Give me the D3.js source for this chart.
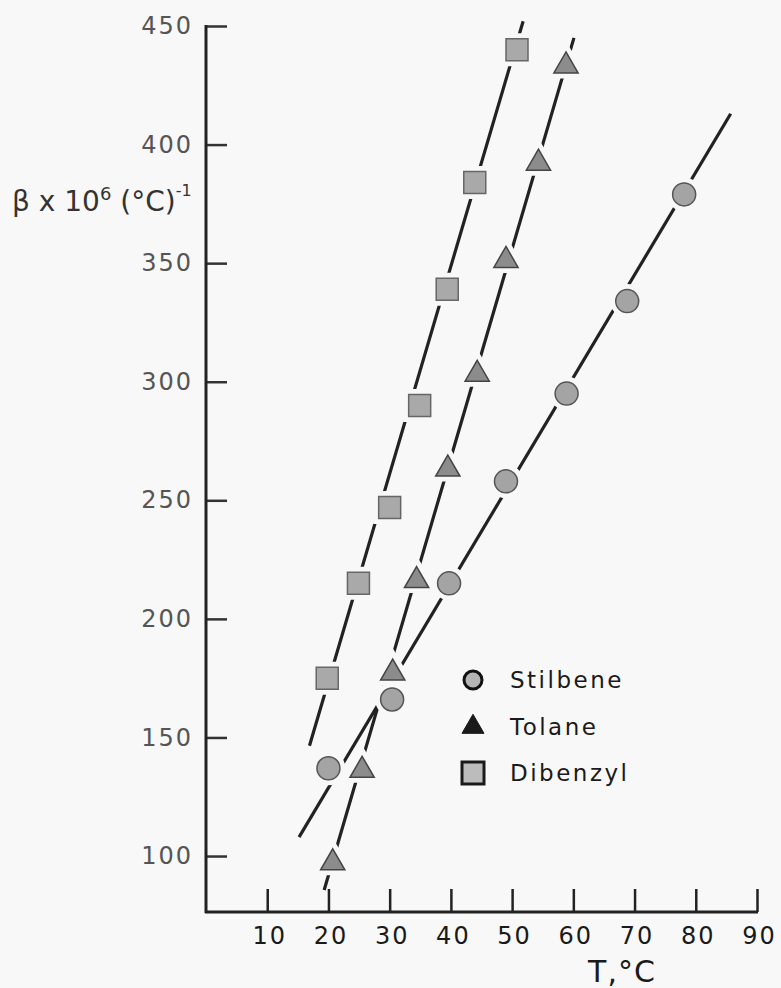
<!DOCTYPE html>
<html>
<head>
<meta charset="utf-8">
<script src="https://cdn.jsdelivr.net/npm/d3@7/dist/d3.min.js"></script>
<style>
  html, body { margin: 0; padding: 0; background: #f8f8f8; }
  svg { display: block; }
  text { font-family: "DejaVu Sans", sans-serif; }
</style>
</head>
<body>
<script>
// ---- data ----
const xTicks = [10, 20, 30, 40, 50, 60, 70, 80, 90];
const yTicks = [100, 150, 200, 250, 300, 350, 400, 450];

const stilbeneT = [20.0, 30.4, 39.7, 49.0, 58.9, 68.8, 78.1];
const stilbeneB = [137, 166, 215, 258, 295, 334, 379];

const tolaneT = [20.7, 25.5, 30.5, 34.4, 39.5, 44.3, 49.0, 54.3, 58.8];
const tolaneB = [98, 137, 178, 217, 264, 304, 352, 393, 434];

const dibenzylT = [19.8, 24.9, 30.0, 34.9, 39.4, 43.9, 50.8];
const dibenzylB = [175, 215, 247, 290, 339, 384, 440];

// fitted straight lines drawn through each series (end points)
const stilbeneLineT = [15.2, 85.7];
const stilbeneLineB = [108, 413];
const tolaneLineT = [19.3, 60.1];
const tolaneLineB = [85.7, 445];
const dibenzylLineT = [16.9, 51.8];
const dibenzylLineB = [146.5, 452];

const legendNames = ["Stilbene", "Tolane", "Dibenzyl"];

// ---- drawing ----
const W = 781, H = 988;
const bg = "#f8f8f8";
const ink = "#222";

const svg = d3.select("body").append("svg").attr("width", W).attr("height", H);
svg.append("rect").attr("width", W).attr("height", H).attr("fill", bg);

const x = d3.scaleLinear().domain([0, 90]).range([206, 757]);
const y = d3.scaleLinear().domain([76.4, 450]).range([912, 26]);

// axes
const yAxis = d3.axisLeft(y).tickValues(yTicks).tickSize(-21).tickPadding(15).tickFormat(d3.format("d"));
const gy = svg.append("g").attr("transform", `translate(${x(0)},0)`).call(yAxis);
gy.select(".domain").remove();
gy.selectAll(".tick line").attr("stroke", "#333").attr("stroke-width", 2.5);
gy.selectAll(".tick text").attr("font-size", 24).attr("fill", "#555").attr("letter-spacing", 2).attr("dx", 2);

const xAxis = d3.axisBottom(x).tickValues(xTicks).tickSize(-23).tickPadding(15).tickFormat(d3.format("d"));
const gx = svg.append("g").attr("transform", `translate(0,${y(76.4)})`).call(xAxis);
gx.select(".domain").remove();
gx.selectAll(".tick line").attr("stroke", ink).attr("stroke-width", 2.5);
gx.selectAll(".tick text").attr("font-size", 24).attr("fill", "#1a1a1a").attr("letter-spacing", 2).attr("dx", 2);

// axis lines
svg.append("line").attr("x1", x(0)).attr("x2", x(0)).attr("y1", y(450) - 1).attr("y2", y(76.4) + 1)
  .attr("stroke", ink).attr("stroke-width", 3);
svg.append("line").attr("x1", x(0) - 1).attr("x2", x(90) + 1).attr("y1", y(76.4)).attr("y2", y(76.4))
  .attr("stroke", ink).attr("stroke-width", 3);

// axis titles
const yt = svg.append("text").attr("x", 12).attr("y", 211).attr("font-size", 28).attr("fill", "#333");
yt.append("tspan").text("β x 10");
yt.append("tspan").attr("font-size", 18).attr("dy", -11).text("6");
yt.append("tspan").attr("dy", 11).text(" (°C)");
yt.append("tspan").attr("font-size", 16).attr("dy", -15).text("-1");

svg.append("text").attr("x", 622).attr("y", 982).attr("text-anchor", "middle")
  .attr("font-size", 30).attr("fill", "#1a1a1a").attr("letter-spacing", 1).text("T,°C");

// fitted lines
const lineGen = d3.line().x(d => x(d[0])).y(d => y(d[1]));
function drawLine(ts, bs) {
  svg.append("path").datum(ts.map((t, i) => [t, bs[i]])).attr("d", lineGen)
    .attr("fill", "none").attr("stroke", ink).attr("stroke-width", 3.2).attr("stroke-linecap", "butt");
}
drawLine(stilbeneLineT, stilbeneLineB);
drawLine(tolaneLineT, tolaneLineB);
drawLine(dibenzylLineT, dibenzylLineB);

// markers
const sym = {
  circle: d3.symbol().type(d3.symbolCircle),
  tri: d3.symbol().type(d3.symbolTriangle),
  sq: d3.symbol().type(d3.symbolSquare)
};
function marker(g, kind, cx, cy, size, fill, stroke, sw, halo) {
  let path, dy = 0;
  if (kind === "circle") path = sym.circle.size(Math.PI * size * size)();
  else if (kind === "sq") path = sym.sq.size(size * size * 4)();
  else { path = sym.tri.size(size * size * 2.1)(); dy = 2; }
  if (halo) {
    g.append("path").attr("d", path).attr("transform", `translate(${cx},${cy + dy})`)
      .attr("fill", bg).attr("stroke", bg).attr("stroke-width", halo);
  }
  g.append("path").attr("d", path).attr("transform", `translate(${cx},${cy + dy})`)
    .attr("fill", fill).attr("stroke", stroke).attr("stroke-width", sw);
}
const gm = svg.append("g");
dibenzylT.forEach((t, i) => marker(gm, "sq", x(t), y(dibenzylB[i]), 11, "#a9a9a9", "#666", 1.5, 11));
tolaneT.forEach((t, i) => marker(gm, "tri", x(t), y(tolaneB[i]), 11, "#8c8c8c", "#444", 1.5, 11));
stilbeneT.forEach((t, i) => marker(gm, "circle", x(t), y(stilbeneB[i]), 11.5, "#a4a4a4", "#555", 1.5, 11));

// legend
const lg = svg.append("g");
const legendKinds = ["circle", "tri", "sq"];
const legendY = [680, 727, 773];
legendNames.forEach((name, i) => {
  if (legendKinds[i] === "circle") marker(lg, "circle", 473, legendY[i], 9, "#b5b5b5", "#111", 3, 0);
  else if (legendKinds[i] === "tri") marker(lg, "tri", 473, legendY[i] - 2, 10, "#1a1a1a", "#1a1a1a", 1, 0);
  else marker(lg, "sq", 473, legendY[i], 11, "#bcbcbc", "#1a1a1a", 3, 0);
  lg.append("text").attr("x", 510).attr("y", legendY[i] + 8).attr("font-size", 23)
    .attr("fill", "#1a1a1a").attr("letter-spacing", 2.5).text(name);
});
</script>
</body>
</html>
